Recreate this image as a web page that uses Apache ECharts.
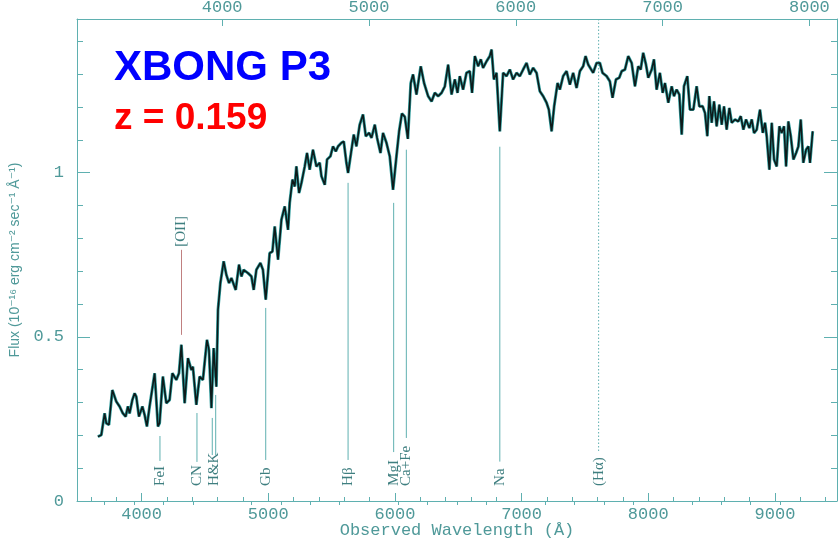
<!DOCTYPE html>
<html>
<head>
<meta charset="utf-8">
<script src="https://cdn.jsdelivr.net/npm/echarts@6/dist/echarts.min.js"></script>
<style>html,body{margin:0;padding:0;background:#fff;}#c{width:838px;height:539px;}</style>
</head>
<body>
<div id="c"></div>
<script>
// ---- data ----
const redshift = 0.159;
const wavelengths = [3655,3682,3708,3721,3742,3769,3800,3826,3852,3874,3892,3905,3927,3945,3958,3979,4006,4024,4042,4063,4103,4129,4142,4168,4195,4221,4243,4274,4295,4314,4340,4366,4393,4405,4432,4458,4484,4516,4532,4551,4569,4590,4603,4622,4648,4669,4690,4709,4743,4769,4788,4806,4840,4867,4885,4906,4938,4958,4980,4998,5011,5033,5051,5077,5104,5130,5156,5169,5191,5209,5222,5243,5262,5288,5306,5327,5353,5380,5406,5420,5446,5464,5491,5511,5533,5551,5578,5596,5617,5630,5657,5675,5696,5722,5748,5770,5796,5815,5841,5859,5886,5906,5933,5959,5985,6012,6033,6055,6078,6102,6125,6143,6170,6204,6230,6262,6289,6315,6341,6368,6394,6420,6447,6473,6494,6512,6538,6565,6591,6609,6631,6657,6678,6696,6723,6749,6763,6781,6802,6828,6854,6881,6907,6933,6960,6986,7012,7039,7065,7091,7118,7144,7170,7197,7215,7237,7257,7284,7302,7328,7355,7381,7407,7434,7460,7486,7505,7526,7539,7565,7592,7618,7639,7671,7697,7718,7745,7771,7790,7816,7842,7869,7895,7921,7940,7960,7982,8000,8027,8045,8066,8092,8114,8132,8158,8185,8203,8224,8245,8264,8282,8308,8329,8356,8382,8403,8429,8448,8466,8482,8501,8519,8540,8561,8580,8598,8619,8640,8659,8685,8711,8730,8751,8772,8798,8817,8835,8856,8882,8904,8922,8935,8956,8975,8993,9014,9035,9053,9072,9088,9106,9125,9146,9167,9185,9204,9224,9246,9264,9277,9298];
const fluxes = [0.196,0.201,0.267,0.237,0.232,0.338,0.303,0.288,0.267,0.257,0.288,0.267,0.308,0.328,0.318,0.257,0.288,0.262,0.227,0.288,0.389,0.227,0.237,0.379,0.298,0.308,0.389,0.369,0.389,0.476,0.298,0.435,0.399,0.409,0.293,0.379,0.369,0.491,0.460,0.283,0.466,0.348,0.582,0.664,0.730,0.689,0.664,0.679,0.643,0.720,0.684,0.704,0.694,0.684,0.643,0.704,0.725,0.704,0.613,0.694,0.755,0.760,0.836,0.735,0.857,0.897,0.826,0.908,0.979,0.958,1.019,0.938,0.969,1.019,1.060,1.009,1.070,1.019,1.030,0.989,0.963,1.040,1.050,1.080,1.065,1.080,1.091,1.095,1.030,0.999,1.070,1.116,1.080,1.146,1.177,1.111,1.121,1.106,1.146,1.106,1.060,1.121,1.091,1.050,0.948,1.050,1.126,1.180,1.170,1.103,1.273,1.299,1.238,1.324,1.273,1.233,1.217,1.243,1.233,1.243,1.263,1.329,1.238,1.284,1.243,1.294,1.253,1.304,1.309,1.243,1.355,1.324,1.345,1.319,1.339,1.355,1.375,1.284,1.304,1.126,1.304,1.294,1.314,1.284,1.304,1.294,1.314,1.334,1.299,1.319,1.304,1.248,1.233,1.213,1.192,1.126,1.202,1.273,1.253,1.294,1.309,1.268,1.304,1.258,1.309,1.324,1.355,1.329,1.329,1.304,1.334,1.334,1.304,1.294,1.278,1.228,1.284,1.289,1.309,1.314,1.355,1.334,1.263,1.324,1.314,1.365,1.329,1.289,1.314,1.345,1.253,1.304,1.243,1.273,1.213,1.263,1.233,1.253,1.238,1.116,1.263,1.294,1.192,1.192,1.263,1.202,1.202,1.182,1.111,1.233,1.152,1.217,1.141,1.207,1.146,1.202,1.131,1.197,1.152,1.162,1.156,1.172,1.131,1.162,1.136,1.162,1.121,1.131,1.192,1.121,1.152,1.111,1.009,1.152,1.040,1.019,1.141,1.121,1.141,1.019,1.156,1.111,1.040,1.060,1.080,1.162,1.030,1.070,1.080,1.030,1.126];

// absorption feature markers (observed wavelength, line top flux, line bottom flux)
const featureLineWaves   = [4145, 4437, 4558, 4585, 4980, 5630, 5990, 6090, 6828];
const featureLineTops    = [0.198, 0.268, 0.253, 0.323, 0.588, 0.969, 0.908, 1.070, 1.079];
const featureLineBottoms = [0.122, 0.119, 0.140, 0.140, 0.125, 0.125, 0.149, 0.192, 0.120];
const featureLabels      = ['FeI', 'CN', 'H&K', 'Gb', 'Hβ', 'MgI', 'Ca+Fe', 'Na', '(Hα)'];
const featureLabelWaves  = [4145, 4437, 4571, 4980, 5630, 5990, 6090, 6828, 7608];
// H-alpha (expected position, dotted)
const halphaWave = 7608;
const halphaBottom = 0.149;
// [OII] emission marker
const oiiWave = 4315;
const oiiLine = [0.506, 0.765];
const oiiLabel = '[OII]';

// tick values
const bottomMajor = [4000, 5000, 6000, 7000, 8000, 9000];
const bottomMinor = [3600,3800,4200,4400,4600,4800,5200,5400,5600,5800,6200,6400,6600,6800,7200,7400,7600,7800,8200,8400,8600,8800,9200,9400];
const topMajor = [4000, 5000, 6000, 7000, 8000];
const topMinor = [3200,3400,3600,3800,4200,4400,4600,4800,5200,5400,5600,5800,6200,6400,6600,6800,7200,7400,7600,7800];
const yMajor = [0, 0.5, 1];
const yMinor = [0.1,0.2,0.3,0.4,0.6,0.7,0.8,0.9,1.1,1.2,1.3,1.4];

// ---- chart ----
const XMIN = 3490, XMAX = 9490, YMAX = 1.468;
const AX = '#5fb0b0';
const TXT = '#4f9999';
const LBL = '#3f7f80';
const MONO = '"Liberation Mono", "DejaVu Sans Mono", monospace';
const SERIF = '"Liberation Serif", "DejaVu Serif", serif';

const chart = echarts.init(document.getElementById('c'), null, {renderer: 'canvas'});

function axisBase(extra) {
  return Object.assign({
    type: 'value', gridIndex: 0, splitLine: {show: false},
    axisLine: {show: true, onZero: false, lineStyle: {color: AX, width: 1}},
    axisTick: {show: false}, axisLabel: {show: false}
  }, extra);
}
const labelStyle = {show: true, color: TXT, fontFamily: MONO, fontSize: 17, formatter: v => String(v)};

const spectrum = wavelengths.map((w, i) => [w, fluxes[i]]);
const LABEL_BASE = 0.046;

const option = {
  animation: false,
  backgroundColor: '#ffffff',
  title: [
    {text: 'XBONG P3', left: 114, top: 47, padding: 0,
     textStyle: {color: '#0000ff', fontSize: 42, fontWeight: 'bold', fontFamily: '"Liberation Sans", Arial, sans-serif'}},
    {text: 'z = 0.159', left: 114, top: 100, padding: 0,
     textStyle: {color: '#ff0000', fontSize: 37, fontWeight: 'bold', fontFamily: '"Liberation Sans", Arial, sans-serif'}}
  ],
  grid: {left: 77, right: 1, top: 19, bottom: 38, outerBoundsMode: 'none', containLabel: false},
  xAxis: [
    axisBase({position: 'bottom', min: XMIN, max: XMAX,
      axisTick: {show: true, inside: true, length: 8, customValues: bottomMajor, lineStyle: {color: AX}},
      axisLabel: Object.assign({customValues: bottomMajor, margin: 5}, labelStyle),
      name: 'Observed Wavelength (Å)', nameLocation: 'middle', nameGap: 21, nameMoveOverlap: false,
      nameTextStyle: {color: TXT, fontFamily: MONO, fontSize: 17}}),
    axisBase({position: 'bottom', min: XMIN, max: XMAX, axisLine: {show: false},
      axisTick: {show: true, inside: true, length: 4, customValues: bottomMinor, lineStyle: {color: AX}}}),
    axisBase({position: 'top', min: XMIN / (1 + redshift), max: XMAX / (1 + redshift),
      axisTick: {show: true, inside: true, length: 7, customValues: topMajor, lineStyle: {color: AX}},
      axisLabel: Object.assign({customValues: topMajor, margin: 3}, labelStyle)}),
    axisBase({position: 'top', min: XMIN / (1 + redshift), max: XMAX / (1 + redshift), axisLine: {show: false},
      axisTick: {show: true, inside: true, length: 4, customValues: topMinor, lineStyle: {color: AX}}})
  ],
  yAxis: [
    axisBase({position: 'left', min: 0, max: YMAX,
      axisTick: {show: true, inside: true, length: 13, customValues: yMajor, lineStyle: {color: AX}},
      axisLabel: Object.assign({customValues: yMajor, margin: 13}, labelStyle),
      name: 'Flux (10⁻¹⁶ erg cm⁻² sec⁻¹ Å⁻¹)', nameLocation: 'middle', nameGap: 55, nameMoveOverlap: false,
      nameTextStyle: {color: TXT, fontFamily: '"Liberation Sans", "DejaVu Sans", sans-serif', fontSize: 14}}),
    axisBase({position: 'left', min: 0, max: YMAX, axisLine: {show: false},
      axisTick: {show: true, inside: true, length: 6, customValues: yMinor, lineStyle: {color: AX}}}),
    axisBase({position: 'right', min: 0, max: YMAX,
      axisTick: {show: true, inside: true, length: 13, customValues: yMajor, lineStyle: {color: AX}}}),
    axisBase({position: 'right', min: 0, max: YMAX, axisLine: {show: false},
      axisTick: {show: true, inside: true, length: 6, customValues: yMinor, lineStyle: {color: AX}}})
  ],
  series: [
    {type: 'custom', xAxisIndex: 0, yAxisIndex: 0, silent: true, z: 2,
     data: featureLineWaves.map((w, i) => [w, featureLineTops[i], featureLineBottoms[i]]),
     renderItem: function (params, api) {
       const a = api.coord([api.value(0), api.value(1)]);
       const b = api.coord([api.value(0), api.value(2)]);
       return {type: 'line', shape: {x1: a[0], y1: a[1], x2: b[0], y2: b[1]}, style: {stroke: AX, lineWidth: 1}};
     }},
    {type: 'custom', xAxisIndex: 0, yAxisIndex: 0, silent: true, z: 2,
     data: [[halphaWave, YMAX, halphaBottom]],
     renderItem: function (params, api) {
       const a = api.coord([api.value(0), api.value(1)]);
       const b = api.coord([api.value(0), api.value(2)]);
       return {type: 'line', shape: {x1: a[0], y1: a[1], x2: b[0], y2: b[1]}, style: {stroke: AX, lineWidth: 1, lineDash: [1.5, 2]}};
     }},
    {type: 'custom', xAxisIndex: 0, yAxisIndex: 0, silent: true, z: 2,
     data: [[oiiWave, oiiLine[0], oiiLine[1]]],
     renderItem: function (params, api) {
       const a = api.coord([api.value(0), api.value(1)]);
       const b = api.coord([api.value(0), api.value(2)]);
       return {type: 'group', children: [
         {type: 'line', shape: {x1: a[0], y1: a[1], x2: b[0], y2: b[1]}, style: {stroke: '#c08080', lineWidth: 1}},
         {type: 'text', x: b[0], y: b[1] - 3, rotation: Math.PI / 2,
          style: {text: oiiLabel, align: 'left', verticalAlign: 'middle', fontSize: 15, fontFamily: SERIF, fill: LBL}}
       ]};
     }},
    {type: 'custom', xAxisIndex: 0, yAxisIndex: 0, silent: true, z: 3,
     data: featureLabelWaves.map(w => [w, LABEL_BASE]),
     renderItem: function (params, api) {
       const p = api.coord([api.value(0), api.value(1)]);
       return {type: 'text', x: p[0], y: p[1], rotation: Math.PI / 2,
         style: {text: featureLabels[params.dataIndex], align: 'left', verticalAlign: 'middle',
                 fontSize: 15, fontFamily: SERIF, fill: LBL}};
     }},
    {type: 'line', xAxisIndex: 0, yAxisIndex: 0, data: spectrum, showSymbol: false, silent: true, z: 4,
     lineStyle: {color: '#2f9d9d', width: 3}},
    {type: 'line', xAxisIndex: 0, yAxisIndex: 0, data: spectrum, showSymbol: false, silent: true, z: 5,
     lineStyle: {color: '#0d1a1a', width: 1.6}}
  ]
};
chart.setOption(option);
</script>
</body>
</html>
